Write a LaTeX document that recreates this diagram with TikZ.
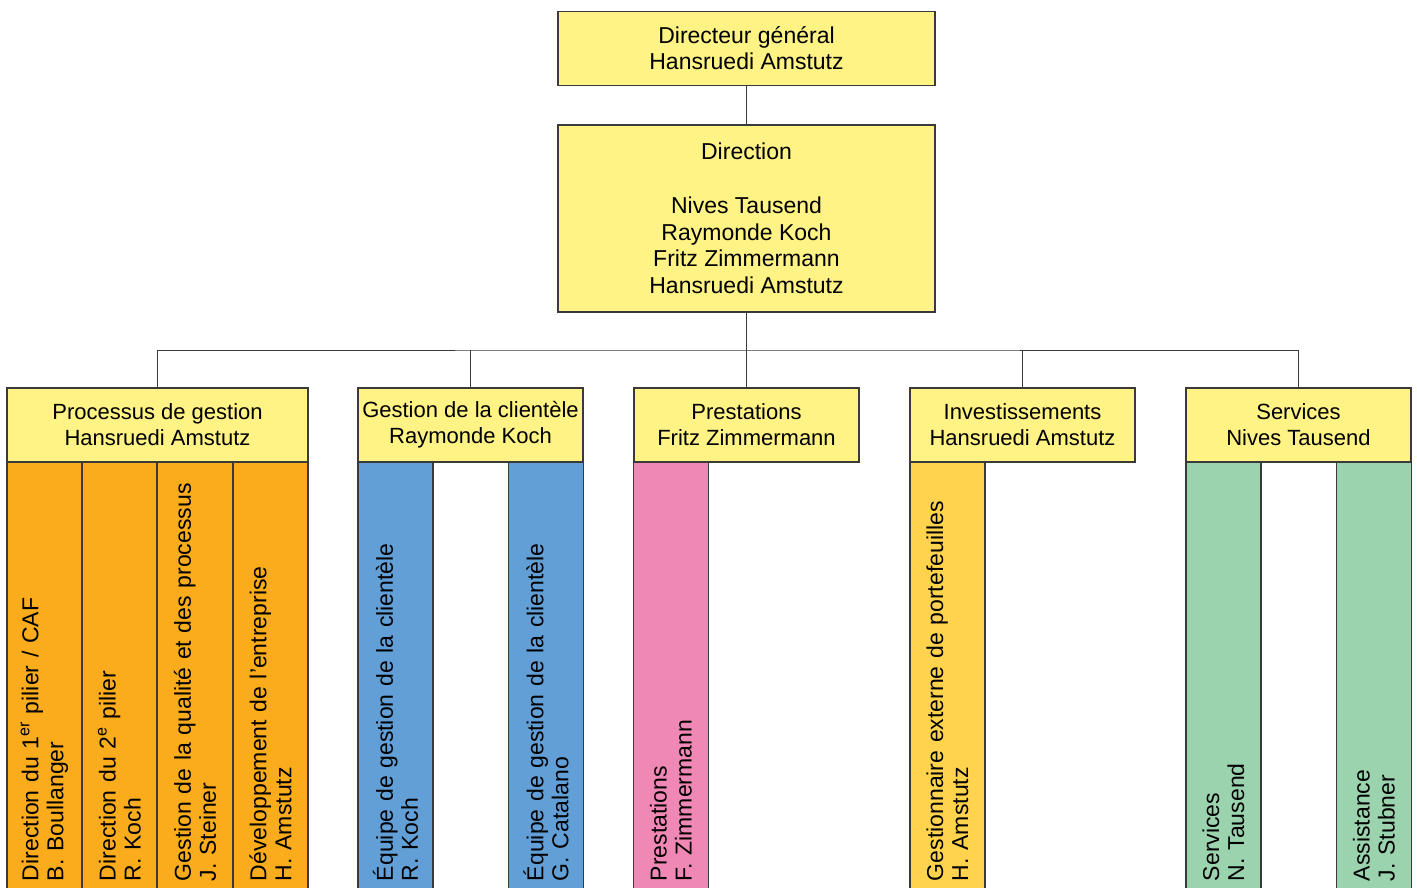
\documentclass[tikz,border=0pt]{standalone}
\usepackage{fontspec}
\setmainfont{Liberation Sans}
\usetikzlibrary{positioning}
\hyphenpenalty=10000

\definecolor{linegray}{HTML}{3A3A3A}
\definecolor{headyellow}{HTML}{FFF385}
\definecolor{procorange}{HTML}{FAAC1C}
\definecolor{clieblue}{HTML}{619FD6}
\definecolor{prespink}{HTML}{F088B6}
\definecolor{invgold}{HTML}{FFD34E}
\definecolor{servgreen}{HTML}{9BD3AE}

\begin{document}
\begin{tikzpicture}[x=1pt, y=-1pt]
  \tikzset{
    head/.style={draw=linegray, fill=headyellow, line width=1.1pt, minimum width=225pt,
      minimum height=74pt, inner xsep=2pt, align=center, font=\fontsize{22}{26}\selectfont},
    col/.style={draw=linegray, line width=1.1pt, rotate=90, minimum height=75pt,
      text width=405pt, inner xsep=14pt, inner ysep=0pt, align=left,
      font=\fontsize{23}{25}\selectfont},
    link/.style={draw=linegray, line width=1pt}
  }
  \useasboundingbox (0,0) rectangle (1417,887);

  % top of the chart
  \node[head, minimum width=377pt, font=\fontsize{23}{26}\selectfont] (dg) at (746.5,48.5)
    {Directeur général\\Hansruedi Amstutz};
  \node[head, minimum width=377pt, minimum height=187pt, font=\fontsize{23}{26.7}\selectfont] (dir) at (746.5,218.5)
    {Direction\\[27pt]Nives Tausend\\Raymonde Koch\\Fritz Zimmermann\\Hansruedi Amstutz};

  % departments
  \node[head, minimum width=301pt] (proc) at (157.5,425) {Processus de gestion\\Hansruedi Amstutz};
  \node[head] (clie) at (470.5,425) {Gestion de la clientèle\\Raymonde Koch};
  \node[head] (pres) at (746.5,425) {Prestations\\Fritz Zimmermann};
  \node[head] (inv) at (1022.5,425) {Investissements\\Hansruedi Amstutz};
  \node[head] (serv) at (1298.5,425) {Services\\Nives Tausend};

  % units
  \node[col, fill=procorange] (p1) at (44.5,678.5) {Direction du 1\textsuperscript{er} pilier / CAF\\B. Boullanger};
  \node[col, fill=procorange] (p2) at (119.5,678.5) {Direction du 2\textsuperscript{e} pilier\\R. Koch};
  \node[col, fill=procorange] (p3) at (195,678.5) {Gestion de la qualité et des processus\\J. Steiner};
  \node[col, fill=procorange] (p4) at (270.5,678.5) {Développement de l’entreprise\\H. Amstutz};
  \node[col, fill=clieblue] (c1) at (395.5,678.5) {Équipe de gestion de la clientèle\\R. Koch};
  \node[col, fill=clieblue] (c2) at (546,678.5) {Équipe de gestion de la clientèle\\G. Catalano};
  \node[col, fill=prespink] (r1) at (671,678.5) {Prestations\\F. Zimmermann};
  \node[col, fill=invgold] (i1) at (947.5,678.5) {Gestionnaire externe de portefeuilles\\H. Amstutz};
  \node[col, fill=servgreen] (s1) at (1223.5,678.5) {Services\\N. Tausend};
  \node[col, fill=servgreen] (s2) at (1374,678.5) {Assistance\\J. Stubner};

  % connectors
  \coordinate (bus) at (746.5,350);
  \draw[link] (dg) -- (dir);
  \draw[link] (dir) -- (pres);
  \draw[link] (proc.north) |- (bus) -| (serv.north);
  \draw[link] (clie.north) -- (clie.north |- bus);
  \draw[link] (inv.north) -- (inv.north |- bus);
\end{tikzpicture}
\end{document}
